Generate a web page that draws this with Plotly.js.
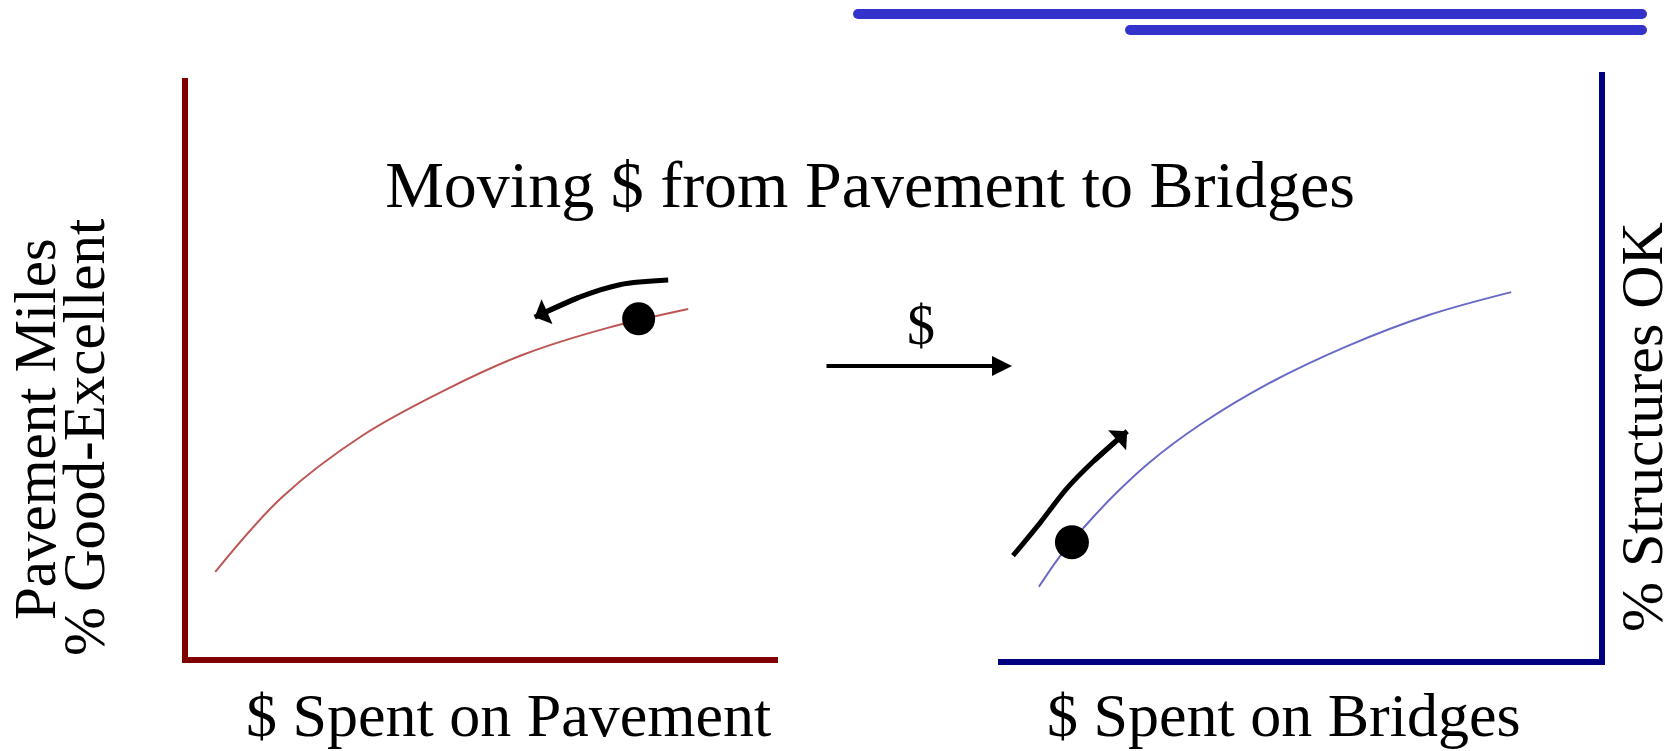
<!DOCTYPE html>
<html><head><meta charset="utf-8">
<script src="https://cdn.plot.ly/plotly-3.0.1.min.js"></script>
<style>html,body{margin:0;padding:0;background:#fff;overflow:hidden}</style>
</head><body><div id="chart" style="width:1674px;height:751px"></div>
<script>
// ---- data (relative units 0-100 on each panel) ----
const pavementSpend      = [4.7, 16.0, 29.7, 43.6, 56.8, 71.0, 84.8];
const pavementCondition  = [14.7, 27.6, 38.3, 46.1, 52.2, 56.8, 60.1];
const pavementPointSpend = [76.4];
const pavementPointCond  = [58.4];
const pavementArrowSpend = [81.4, 73.2, 66.5, 58.8];
const pavementArrowCond  = [65.1, 64.3, 62.2, 58.7];

const bridgeSpend      = [6.8, 10.3, 14.8, 19.8, 25.1, 33.6, 44.6, 58.1, 71.7, 85.4];
const bridgeCondition  = [12.3, 17.5, 23.0, 28.4, 33.4, 39.9, 46.7, 53.3, 58.6, 62.5];
const bridgePointSpend = [12.3];
const bridgePointCond  = [19.9];
const bridgeArrowSpend = [2.5, 7.0, 11.5, 15.8, 21.5];
const bridgeArrowCond  = [17.6, 23.2, 29.1, 33.6, 38.8];

const titleText = 'Moving $ from Pavement to Bridges';
const leftYLabel1 = 'Pavement Miles';
const leftYLabel2 = '% Good-Excellent';
const rightYLabel = '% Structures OK';
const leftXLabel = '$ Spent on Pavement';
const rightXLabel = '$ Spent on Bridges';
const transferLabel = '$';

// ---- layout helpers ----
const W = 1674, H = 751;
const X = p => p / W;
const Y = p => 1 - p / H;
const FONT = 'Liberation Serif, Times New Roman, serif';

const traces = [
  {x: pavementSpend, y: pavementCondition, xaxis: 'x', yaxis: 'y', mode: 'lines',
   line: {color: 'rgb(190,85,85)', width: 2, shape: 'spline'}, hoverinfo: 'skip', cliponaxis: false},
  {x: pavementPointSpend, y: pavementPointCond, xaxis: 'x', yaxis: 'y', mode: 'markers',
   marker: {color: '#000', size: 33}, hoverinfo: 'skip', cliponaxis: false},
  {x: pavementArrowSpend, y: pavementArrowCond, xaxis: 'x', yaxis: 'y', mode: 'lines',
   line: {color: '#000', width: 5, shape: 'spline'}, hoverinfo: 'skip', cliponaxis: false},
  {x: bridgeSpend, y: bridgeCondition, xaxis: 'x2', yaxis: 'y2', mode: 'lines',
   line: {color: 'rgb(105,105,200)', width: 2, shape: 'spline'}, hoverinfo: 'skip', cliponaxis: false},
  {x: bridgePointSpend, y: bridgePointCond, xaxis: 'x2', yaxis: 'y2', mode: 'markers',
   marker: {color: '#000', size: 34}, hoverinfo: 'skip', cliponaxis: false},
  {x: bridgeArrowSpend, y: bridgeArrowCond, xaxis: 'x2', yaxis: 'y2', mode: 'lines',
   line: {color: '#000', width: 5, shape: 'spline'}, hoverinfo: 'skip', cliponaxis: false}
];

// arrow heads: last segment of each curved arrow, drawn by the library's annotation arrows in data coordinates
function headOf(xs, ys, xa, ya) {
  const n = xs.length;
  return {text: '', xref: xa, yref: ya, axref: xa, ayref: ya,
    x: xs[n-1], y: ys[n-1], ax: xs[n-2], ay: ys[n-2],
    showarrow: true, arrowhead: 1, arrowsize: 0.9, arrowwidth: 5, arrowcolor: '#000', standoff: 0};
}

const axBase = {range: [0, 100], showgrid: false, zeroline: false, showticklabels: false,
  ticks: '', showline: true, linewidth: 6, fixedrange: true};

const blue = '#3333cc';
const shapes = [
  {type: 'line', xref: 'paper', yref: 'paper', x0: X(858), x1: X(1642), y0: Y(14), y1: Y(14), line: {color: blue, width: 10}},
  {type: 'line', xref: 'paper', yref: 'paper', x0: X(1130), x1: X(1642), y0: Y(30), y1: Y(30), line: {color: blue, width: 10}},
];
[[858,14],[1642,14],[1130,30],[1642,30]].forEach(([cx, cy]) => shapes.push({
  type: 'circle', xref: 'paper', yref: 'paper', x0: X(cx-5), x1: X(cx+5), y0: Y(cy+5), y1: Y(cy-5),
  fillcolor: blue, line: {width: 0}
}));

function label(text, x, y, size, angle) {
  return {text: text, xref: 'paper', yref: 'paper', x: X(x), y: Y(y), xanchor: 'center', yanchor: 'middle',
    showarrow: false, textangle: angle || 0, font: {family: FONT, size: size, color: '#000'}};
}

const annotations = [
  label(leftXLabel, 508, 715, 62),
  label(rightXLabel, 1284, 715, 62),
  label(leftYLabel1, 35, 429, 59, -90),
  label(leftYLabel2, 84, 437, 59, -90),
  label(rightYLabel, 1642, 427, 60, -90),
  label(transferLabel, 921, 325, 56),
  {text: '', xref: 'paper', yref: 'paper', x: X(1012), y: Y(366), ax: -187, ay: 0,
   showarrow: true, arrowhead: 2, arrowsize: 1, arrowwidth: 4, arrowcolor: '#000', standoff: 0},
  headOf(pavementArrowSpend, pavementArrowCond, 'x', 'y'),
  headOf(bridgeArrowSpend, bridgeArrowCond, 'x2', 'y2')
];

const layout = {
  width: W, height: H, margin: {l: 0, r: 0, t: 0, b: 0},
  paper_bgcolor: '#fff', plot_bgcolor: 'rgba(0,0,0,0)', showlegend: false,
  title: {text: titleText, xref: 'container', yref: 'container', x: X(870), y: Y(184),
    xanchor: 'center', yanchor: 'middle', font: {family: FONT, size: 66, color: '#000'}},
  xaxis:  Object.assign({}, axBase, {domain: [X(187.5), X(778)], anchor: 'y', linecolor: '#800000'}),
  yaxis:  Object.assign({}, axBase, {domain: [Y(657), Y(78)], anchor: 'x', linecolor: '#800000'}),
  xaxis2: Object.assign({}, axBase, {domain: [X(998), X(1599)], anchor: 'y2', linecolor: '#000080'}),
  yaxis2: Object.assign({}, axBase, {domain: [Y(659), Y(72)], anchor: 'x2', side: 'right', linecolor: '#000080'}),
  shapes: shapes,
  annotations: annotations
};

Plotly.newPlot('chart', traces, layout, {displayModeBar: false, staticPlot: true});
</script>
</body></html>
